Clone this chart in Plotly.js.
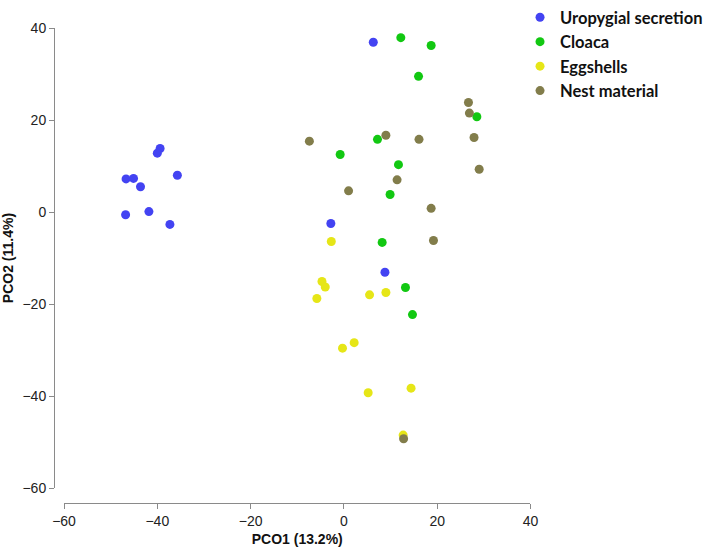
<!DOCTYPE html>
<html>
<head>
<meta charset="utf-8">
<script src="https://cdn.plot.ly/plotly-3.0.1.min.js"></script>
<style>html,body{margin:0;padding:0;background:#fff;}#chart{width:717px;height:548px;}</style>
</head>
<body>
<div id="chart"></div>
<script>
const seriesNames = ["Uropygial secretion", "Cloaca", "Eggshells", "Nest material"];

const uropygialX = [-39.4, -40.0, -35.7, -46.7, -45.1, -43.6, -46.8, -41.8, -37.3, 6.3, -2.8, 8.8];
const uropygialY = [13.8, 12.8, 8.0, 7.2, 7.3, 5.5, -0.6, 0.1, -2.7, 36.9, -2.5, -13.1];

const cloacaX = [12.2, 18.7, 16.0, 28.5, 7.2, -0.8, 11.7, 9.9, 8.2, 13.2, 14.7];
const cloacaY = [37.9, 36.2, 29.5, 20.7, 15.8, 12.5, 10.3, 3.8, -6.6, -16.4, -22.3];

const eggshellsX = [-2.7, -4.7, -4.0, -5.8, 5.5, 9.0, -0.3, 2.2, 5.2, 14.4, 12.7];
const eggshellsY = [-6.4, -15.1, -16.3, -18.8, -18.0, -17.5, -29.6, -28.4, -39.3, -38.3, -48.5];

const nestX = [26.7, 26.9, 27.9, -7.4, 9.0, 16.1, 11.4, 29.0, 1.0, 18.7, 19.2, 12.8];
const nestY = [23.8, 21.5, 16.2, 15.4, 16.7, 15.8, 7.0, 9.3, 4.6, 0.8, -6.2, -49.3];

const tickValues = [-60, -40, -20, 0, 20, 40];

const colors = ["#4343f2", "#12c812", "#e6e617", "#827d4b"];
const xs = [uropygialX, cloacaX, eggshellsX, nestX];
const ys = [uropygialY, cloacaY, eggshellsY, nestY];

const traces = seriesNames.map((name, i) => ({
  type: "scatter",
  mode: "markers",
  name: name,
  x: xs[i],
  y: ys[i],
  marker: {color: colors[i], size: 9, line: {width: 0}}
}));

const axisFont = {family: "Liberation Sans, Arial, sans-serif", size: 14, color: "#222"};
const titleFont = {family: "Liberation Sans, Arial, sans-serif", size: 14, color: "#111", weight: "bold"};

const layout = {
  width: 717,
  height: 548,
  margin: {l: 54, r: 0, t: 0, b: 45},
  paper_bgcolor: "#fff",
  plot_bgcolor: "rgba(0,0,0,0)",
  showlegend: true,
  legend: {
    x: 0.7029, xanchor: "left", y: 1.0, yanchor: "top",
    bgcolor: "rgba(0,0,0,0)", borderwidth: 0,
    font: {family: "Lato, 'Open Sans', sans-serif", size: 16.5, color: "#111", weight: "bold"}
  },
  xaxis: {
    range: [-60, 40], domain: [0.0151, 0.7187], anchor: "free", position: 0,
    showline: true, linecolor: "#8a8a8a", linewidth: 1,
    ticks: "outside", ticklen: 5, tickcolor: "#8a8a8a", tickwidth: 1,
    tickvals: tickValues,
    showgrid: false, zeroline: false, tickfont: axisFont,
    title: {text: "PCO1 (13.2%)", font: titleFont, standoff: 6}
  },
  yaxis: {
    range: [-60, 40], domain: [0.0298, 0.9443], anchor: "free", position: 0,
    showline: true, linecolor: "#8a8a8a", linewidth: 1,
    ticks: "outside", ticklen: 5, tickcolor: "#8a8a8a", tickwidth: 1,
    tickvals: tickValues,
    showgrid: false, zeroline: false, tickfont: axisFont,
    title: {text: "PCO2 (11.4%)", font: titleFont, standoff: 8}
  }
};

Plotly.newPlot("chart", traces, layout, {displayModeBar: false, staticPlot: true});
</script>
</body>
</html>
